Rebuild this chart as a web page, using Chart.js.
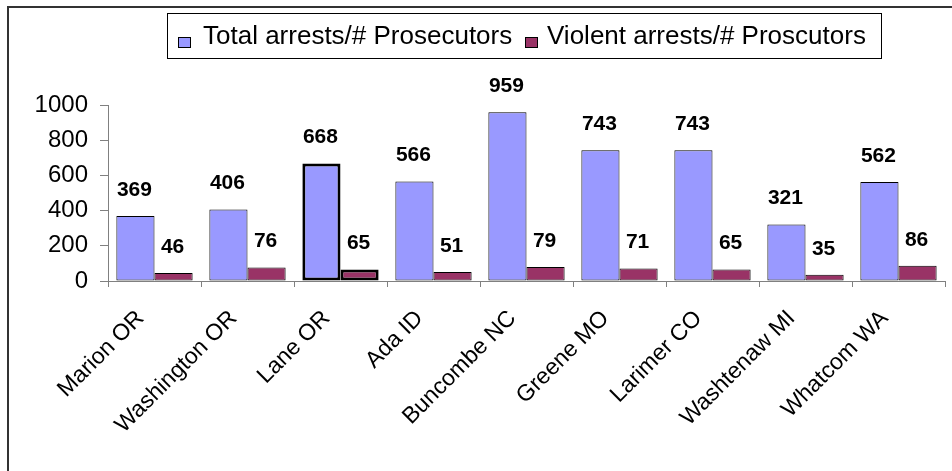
<!DOCTYPE html>
<html>
<head>
<meta charset="utf-8">
<script src="https://cdn.jsdelivr.net/npm/chart.js@4"></script>
<style>
  body { margin: 0; background: #fff; }
  #wrap { width: 952px; height: 471px; }
</style>
</head>
<body>
<div id="wrap"><canvas id="c" width="952" height="471"></canvas></div>
<script>
// data
const counties = ['Marion OR', 'Washington OR', 'Lane OR', 'Ada ID', 'Buncombe NC',
                  'Greene MO', 'Larimer CO', 'Washtenaw MI', 'Whatcom WA'];
const totalPerProsecutor = [369, 406, 668, 566, 959, 743, 743, 321, 562];
const violentPerProsecutor = [46, 76, 65, 51, 79, 71, 65, 35, 86];
const seriesNames = ['Total arrests/# Prosecutors', 'Violent arrests/# Proscutors'];
const yTicks = [0, 200, 400, 600, 800, 1000];

const FONT = 'Liberation Sans, Arial, sans-serif';
const highlightIndex = 2; // Lane OR is drawn with a heavy outline

// frame, legend box and value labels
const decorations = {
    id: 'decorations',
    afterDatasetsDraw(chart) {
        const ctx = chart.ctx;
        ctx.save();
        ctx.font = 'bold 21px ' + FONT;
        ctx.fillStyle = '#000';
        ctx.textAlign = 'center';
        ctx.textBaseline = 'middle';
        chart.data.datasets.forEach((ds, di) => {
            chart.getDatasetMeta(di).data.forEach((bar, i) => {
                ctx.fillText(String(ds.data[i]), bar.x - 1, bar.y - 26);
            });
        });
        ctx.restore();
    },
    afterDraw(chart) {
        const ctx = chart.ctx;
        ctx.save();
        // outer frame (only top and left edges fall inside the picture)
        ctx.strokeStyle = '#333';
        ctx.lineWidth = 2;
        ctx.beginPath();
        ctx.moveTo(8, 471);
        ctx.lineTo(8, 7);
        ctx.lineTo(952, 7);
        ctx.stroke();
        // legend
        ctx.lineWidth = 1;
        ctx.strokeStyle = '#000';
        ctx.fillStyle = '#fff';
        ctx.fillRect(167.5, 13.5, 714, 45);
        ctx.strokeRect(167.5, 13.5, 714, 45);
        ctx.font = '26px ' + FONT;
        ctx.textBaseline = 'alphabetic';
        ctx.textAlign = 'left';
        const items = [
            { x: 178, tx: 203, text: seriesNames[0], color: '#9999FF' },
            { x: 525, tx: 547, text: seriesNames[1], color: '#993366' }
        ];
        items.forEach(it => {
            ctx.fillStyle = it.color;
            ctx.fillRect(it.x + 0.5, 37.5, 12, 10);
            ctx.strokeStyle = '#000';
            ctx.strokeRect(it.x + 0.5, 37.5, 12, 10);
            ctx.fillStyle = '#000';
            ctx.fillText(it.text, it.tx, 44);
        });
        ctx.restore();
    }
};

const borderWidths = counties.map((c, i) => i === highlightIndex ? 3 : 1);

new Chart(document.getElementById('c'), {
    type: 'bar',
    data: {
        labels: counties,
        datasets: [
            {
                label: seriesNames[0],
                data: totalPerProsecutor,
                backgroundColor: '#9999FF',
                borderColor: '#000',
                borderWidth: borderWidths,
                borderSkipped: false
            },
            {
                label: seriesNames[1],
                data: violentPerProsecutor,
                backgroundColor: '#993366',
                borderColor: '#000',
                borderWidth: borderWidths,
                borderSkipped: false
            }
        ]
    },
    options: {
        responsive: false,
        animation: false,
        categoryPercentage: 0.82,
        barPercentage: 1,
        layout: { padding: { top: 105, right: 7, left: 0, bottom: 0 } },
        plugins: {
            legend: { display: false },
            tooltip: { enabled: false }
        },
        scales: {
            x: {
                grid: {
                    display: true,
                    drawOnChartArea: false,
                    offset: true,
                    tickLength: 6,
                    color: '#808080'
                },
                border: { color: '#808080', width: 1 },
                ticks: {
                    color: '#000',
                    font: { family: FONT, size: 23 },
                    minRotation: 45,
                    maxRotation: 45,
                    autoSkip: false,
                    padding: 18,
                    labelOffset: -14
                },
                afterFit(scale) { scale.height = 471 - 281; }
            },
            y: {
                min: 0,
                max: 1000,
                afterBuildTicks(scale) { scale.ticks = yTicks.map(v => ({ value: v })); },
                grid: {
                    display: true,
                    drawOnChartArea: false,
                    tickLength: 8,
                    color: '#808080'
                },
                border: { color: '#808080', width: 1 },
                ticks: {
                    color: '#000',
                    font: { family: FONT, size: 24 },
                    padding: 12,
                    callback: v => String(v)
                },
                afterFit(scale) { scale.width = 108; }
            }
        }
    },
    plugins: [decorations]
});
</script>
</body>
</html>
